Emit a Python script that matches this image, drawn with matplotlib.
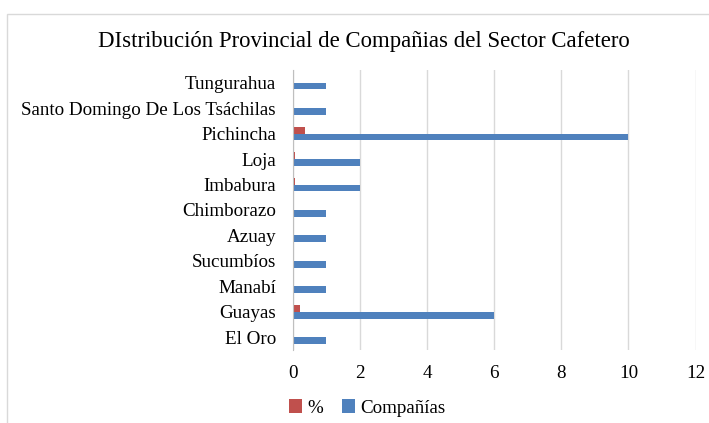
import matplotlib.pyplot as plt
from matplotlib.patches import Rectangle
import numpy as np

# =========================
# DATA
# =========================

provincias = ["El Oro", "Guayas", "Manabí", "Sucumbíos", "Azuay", "Chimborazo",
              "Imbabura", "Loja", "Pichincha",
              "Santo Domingo De Los Tsáchilas", "Tungurahua"]

companias = [1, 6, 1, 1, 1, 1, 2, 2, 10, 1, 1]

porcentaje = [0.037, 0.222, 0.037, 0.037, 0.037, 0.037,
              0.074, 0.074, 0.370, 0.037, 0.037]

# =========================
# FIGURE
# =========================

plt.rcParams["font.family"] = ["Liberation Serif", "DejaVu Serif"]

fig = plt.figure(figsize=(7.09, 4.23), dpi=100)
ax = fig.add_axes([0.4128, 0.1726, 0.5682, 0.6619])

# light chart frame
fig.patches.append(Rectangle((7 / 709, -0.1), 1.2, 0.1 + 1 - 14 / 423,
                             transform=fig.transFigure, fill=False,
                             edgecolor="#D9D9D9", linewidth=1))

# =========================
# BARS
# =========================

y = np.arange(len(provincias))
h = 0.265

ax.barh(y + h / 2, porcentaje, height=h, color="#C0504D", label="%", zorder=3)
ax.barh(y - h / 2, companias, height=h, color="#4F81BD", label="Compañías", zorder=3)

# =========================
# AXES
# =========================

ax.set_xlim(0, 12)
ax.set_ylim(-0.5, len(provincias) - 0.5)
ax.set_xticks(range(0, 13, 2))
ax.set_yticks(y)
ax.set_yticklabels(provincias)

ax.tick_params(axis="both", length=0, labelsize=13.7, colors="#000000")
ax.tick_params(axis="y", pad=12)
ax.tick_params(axis="x", pad=11)

ax.grid(axis="x", color="#D9D9D9", linewidth=1, zorder=0)
for s in ["top", "right", "bottom"]:
    ax.spines[s].set_visible(False)
ax.spines["left"].set_color("#BFBFBF")
ax.spines["left"].set_zorder(4)

# =========================
# TITLE & LEGEND
# =========================

fig.text(364 / 709, 1 - 42 / 423,
         "DIstribución Provincial de Compañias del Sector Cafetero",
         ha="center", va="center", fontsize=16.4)

fig.legend(loc="center", bbox_to_anchor=(367 / 709, 1 - 408 / 423), ncol=2,
           frameon=False, fontsize=13.7, handlelength=0.7, handleheight=0.7,
           handletextpad=0.25, columnspacing=1.0)

plt.savefig("out.png", dpi=100)
